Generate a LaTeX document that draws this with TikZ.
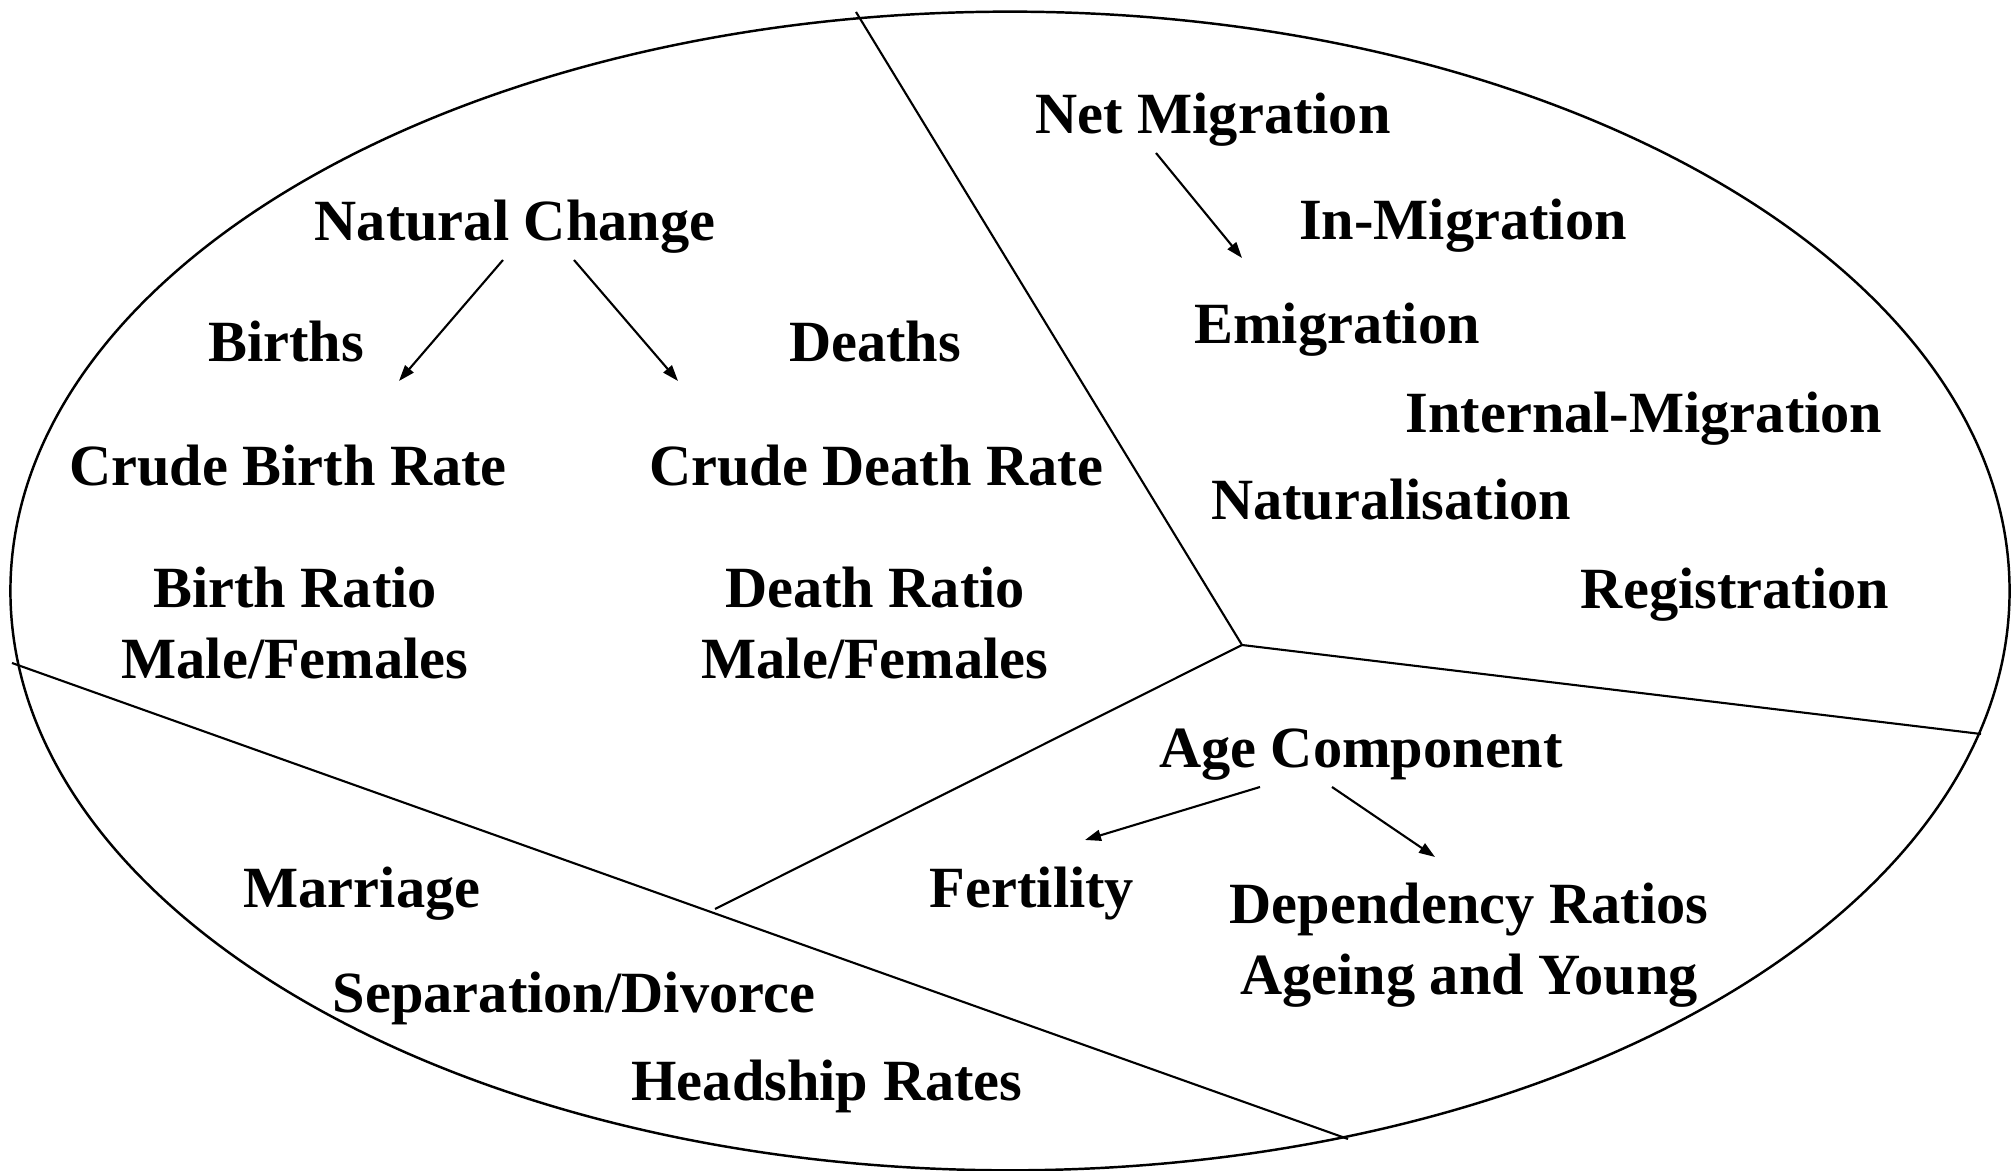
\documentclass[tikz,border=0pt]{standalone}
\usepackage{fontspec}
\setmainfont{Liberation Serif}
\usetikzlibrary{arrows.meta}
\begin{document}
\begin{tikzpicture}[x=0.01cm,y=-0.01cm,
  lbl/.style={font=\bfseries\fontsize{16.6}{20.2}\selectfont, inner sep=0pt, anchor=base, align=center},
  divider/.style={line width=0.6pt},
  conn/.style={line width=0.6pt, -{Triangle[length=0.16cm,width=0.11cm]}}]
\useasboundingbox (0,0) rectangle (2011,1171);
\fill[white] (0,0) rectangle (2011,1171);
% outer ellipse
\draw[line width=0.7pt] (1010,591) ellipse [x radius=9.99cm, y radius=5.79cm];
% dividers
\coordinate (top) at (856,12);
\coordinate (hub) at (1242,645);
\coordinate (rightend) at (1981,734);
\coordinate (lowend) at (715,909);
\coordinate (leftstart) at (12,663);
\coordinate (bottomend) at (1348,1139);
\draw[divider] (top) -- (hub) -- (rightend);
\draw[divider] (hub) -- (lowend);
\draw[divider] (leftstart) -- (bottomend);
% natural change sector
\node[lbl] (natchange) at (515,241) {Natural Change};
\node[lbl] (births) at (286,362) {Births};
\node[lbl] (deaths) at (875,362) {Deaths};
\node[lbl] (cbr) at (288,486) {Crude Birth Rate};
\node[lbl] (cdr) at (876,486) {Crude Death Rate};
\node[lbl] (bratio) at (295,679) {Birth Ratio\\Male/Females};
\node[lbl] (dratio) at (875,679) {Death Ratio\\Male/Females};
% migration sector
\node[lbl] (netmig) at (1213,134) {Net Migration};
\node[lbl] (inmig) at (1463,240) {In-Migration};
\node[lbl] (emig) at (1337,344) {Emigration};
\node[lbl] (intmig) at (1644,433) {Internal-Migration};
\node[lbl] (natur) at (1391,520) {Naturalisation};
\node[lbl] (regis) at (1735,609) {Registration};
% age sector
\node[lbl] (agecomp) at (1361,768) {Age Component};
\node[lbl] (fert) at (1032,908) {Fertility};
\node[lbl] (depend) at (1469,995) {Dependency Ratios\\Ageing and Young};
% household sector
\node[lbl] (marriage) at (362,908) {Marriage};
\node[lbl] (sepdiv) at (574,1013) {Separation/Divorce};
\node[lbl] (headship) at (827,1101) {Headship Rates};
% arrows
\coordinate (nc1) at (503,260);
\coordinate (nc1t) at (399,381);
\coordinate (nc2) at (574,260);
\coordinate (nc2t) at (678,381);
\coordinate (nm1) at (1156,153);
\coordinate (nm1t) at (1242,258);
\coordinate (ac1) at (1260,787);
\coordinate (ac1t) at (1085,840);
\coordinate (ac2) at (1332,787);
\coordinate (ac2t) at (1435,857);
\draw[conn] (nc1) -- (nc1t);
\draw[conn] (nc2) -- (nc2t);
\draw[conn] (nm1) -- (nm1t);
\draw[conn] (ac1) -- (ac1t);
\draw[conn] (ac2) -- (ac2t);
\end{tikzpicture}
\end{document}
